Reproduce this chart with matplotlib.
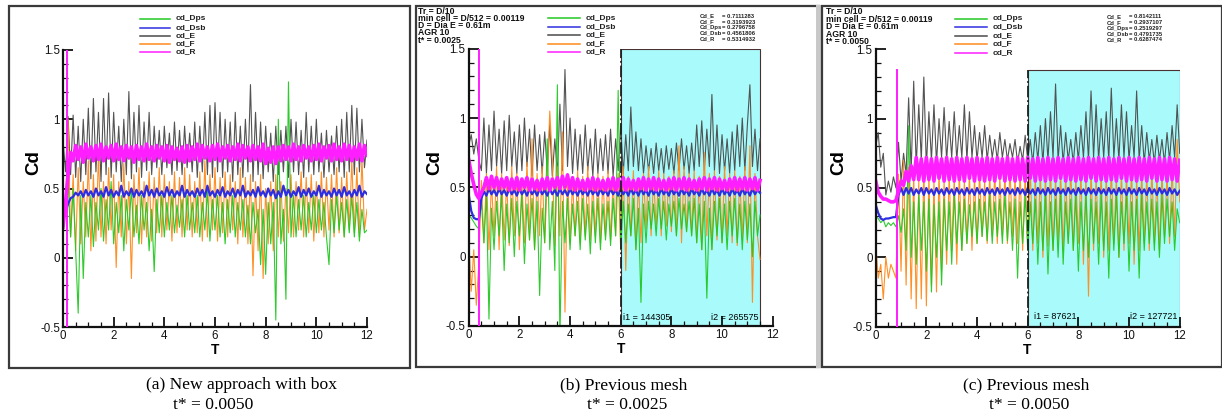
import numpy as np
import matplotlib
matplotlib.use('Agg')
import matplotlib.pyplot as plt
from matplotlib.patches import Rectangle
from matplotlib.lines import Line2D
from matplotlib.ticker import MultipleLocator, FuncFormatter

W, H = 1222, 417
DT = 0.1  # sampling step of the read-off series (T units)

series_names = ['cd_Dps', 'cd_Dsb', 'cd_E', 'cd_F', 'cd_R']
series_colors = {'cd_Dps': '#22c822', 'cd_Dsb': '#2e2ee0', 'cd_E': '#4a4a4a',
                 'cd_F': '#ff8a1c', 'cd_R': '#ff1eff'}

# ---------------- panel (a): new approach with box, t* = 0.0050 ----------------
E_a = [0.85,0.62,1.02,0.60,1.03,0.58,0.95,0.55,1.00,0.60,
       1.08,0.57,1.15,0.62,1.05,0.55,1.15,0.60,1.19,0.58,
       1.05,0.62,0.95,0.55,1.00,0.60,1.20,0.57,1.05,0.62,
       1.10,0.58,0.98,0.63,1.05,0.60,0.95,0.65,0.92,0.60,
       0.95,0.65,0.90,0.60,0.98,0.63,0.92,0.60,0.95,0.65,
       0.90,0.62,0.98,0.58,0.95,0.62,1.05,0.60,1.10,0.58,
       1.12,0.62,1.05,0.58,1.00,0.62,0.98,0.55,1.05,0.60,
       0.95,0.58,1.00,0.62,1.25,0.55,1.05,0.60,0.98,0.57,
       0.95,0.62,0.90,0.55,0.95,0.60,0.92,0.62,0.95,0.58,
       1.00,0.62,0.98,0.60,0.92,0.58,1.05,0.62,0.95,0.60,
       1.00,0.62,0.90,0.58,0.92,0.62,0.88,0.60,0.95,0.62,
       1.00,0.58,1.05,0.62,1.10,0.60,1.08,0.62,1.00,0.65,
       0.85]
Dps_a = [0.45,0.30,0.55,0.15,0.50,0.05,-0.40,0.45,-0.15,0.40,
         0.15,0.45,0.08,0.40,0.20,0.50,0.12,0.42,0.20,0.55,
         0.10,0.40,0.18,0.45,0.05,0.42,0.20,0.50,0.15,0.38,
         0.10,0.45,0.20,0.40,0.05,0.35,-0.10,0.42,0.18,0.45,
         0.15,0.40,0.20,0.45,0.18,0.38,0.22,0.42,0.15,0.45,
         0.20,0.40,0.18,0.45,0.15,0.40,0.20,0.48,0.12,0.42,
         0.20,0.45,0.15,0.40,0.10,0.42,0.18,0.45,0.15,0.40,
         0.20,0.42,0.15,0.38,0.10,0.40,0.18,0.35,-0.05,0.35,
         -0.12,0.40,0.10,0.40,-0.45,1.00,0.10,0.35,-0.30,1.27,
         0.15,0.45,0.15,0.42,0.20,0.45,0.15,0.40,0.20,0.45,
         0.18,0.42,0.20,0.40,0.15,-0.05,0.42,0.18,0.45,0.20,
         0.40,0.15,0.42,0.18,0.45,0.15,0.40,0.12,0.35,0.18,
         0.20]
F_a = [0.25,0.35,1.00,0.15,0.60,0.05,0.65,0.10,0.55,0.15,
       0.70,0.05,0.60,0.12,0.75,0.15,0.55,0.10,0.65,0.20,
       0.60,-0.07,0.55,0.15,0.68,0.10,0.55,-0.15,0.60,0.18,
       0.65,0.10,0.55,0.15,0.62,0.12,0.58,0.18,0.65,0.15,
       0.60,0.20,0.55,0.12,0.62,0.18,0.58,0.15,0.65,0.20,
       0.60,0.15,0.55,0.18,0.62,0.12,0.70,0.15,0.60,0.20,
       0.65,0.12,0.58,0.18,0.62,0.15,0.60,0.20,0.55,0.10,
       0.65,0.15,0.58,0.10,0.60,-0.13,0.55,0.05,0.60,-0.15,
       0.50,0.10,0.55,0.05,0.60,0.15,0.55,0.12,0.50,0.18,
       0.60,0.15,0.55,0.20,0.62,0.15,0.58,0.18,0.60,0.12,
       0.55,0.18,0.62,0.15,0.58,0.20,0.60,0.15,0.65,0.18,
       0.58,0.15,0.62,0.20,0.70,0.18,0.65,0.15,0.72,0.20,
       0.35]
Dsb_a = [0.28,0.33,0.39,0.43,0.44,0.47,0.45,0.48,0.44,0.49,
         0.45,0.48,0.44,0.50,0.45,0.48,0.44,0.51,0.45,0.49,
         0.44,0.48,0.45,0.52,0.44,0.48,0.45,0.50,0.44,0.49,
         0.45,0.48,0.44,0.52,0.45,0.49,0.44,0.50,0.45,0.48,
         0.44,0.51,0.45,0.49,0.44,0.48,0.45,0.52,0.44,0.49,
         0.45,0.48,0.44,0.50,0.45,0.49,0.44,0.52,0.45,0.48,
         0.44,0.49,0.45,0.51,0.44,0.48,0.45,0.50,0.44,0.49,
         0.45,0.52,0.44,0.48,0.45,0.49,0.44,0.51,0.45,0.48,
         0.44,0.50,0.45,0.49,0.43,0.48,0.44,0.52,0.45,0.49,
         0.44,0.48,0.45,0.51,0.44,0.49,0.45,0.50,0.44,0.48,
         0.45,0.52,0.44,0.49,0.45,0.48,0.44,0.50,0.45,0.49,
         0.44,0.51,0.45,0.48,0.44,0.49,0.45,0.52,0.44,0.48,
         0.46]
R_a = [0.22,0.40,0.60,0.76,0.70,0.81,0.71,0.80,0.69,0.82,
       0.72,0.80,0.70,0.81,0.71,0.82,0.70,0.80,0.72,0.81,
       0.70,0.82,0.71,0.80,0.70,0.81,0.72,0.80,0.69,0.81,
       0.71,0.80,0.70,0.82,0.71,0.80,0.70,0.81,0.72,0.80,
       0.70,0.81,0.69,0.80,0.71,0.79,0.70,0.80,0.69,0.81,
       0.70,0.80,0.71,0.82,0.70,0.81,0.72,0.80,0.70,0.81,
       0.71,0.82,0.70,0.80,0.72,0.81,0.70,0.80,0.71,0.82,
       0.70,0.81,0.72,0.80,0.70,0.81,0.71,0.80,0.70,0.82,
       0.68,0.79,0.69,0.80,0.68,0.80,0.70,0.81,0.71,0.80,
       0.70,0.82,0.71,0.80,0.70,0.81,0.72,0.80,0.70,0.81,
       0.71,0.82,0.70,0.80,0.72,0.81,0.70,0.82,0.71,0.80,
       0.70,0.82,0.71,0.81,0.70,0.80,0.71,0.82,0.70,0.81,
       0.74]
R_spike_a = (0.17, -0.5, 1.5)   # restart spike of cd_R: T, Cd low, Cd high

# ---------------- panel (b): previous mesh, t* = 0.0025 ----------------
E_b = [0.80,0.88,0.74,0.85,0.70,0.62,1.00,0.60,0.95,0.62,
       1.05,0.65,0.92,0.60,0.98,0.62,1.02,0.65,0.90,0.60,
       0.95,0.62,1.00,0.65,0.92,0.58,0.95,0.62,0.88,0.60,
       0.90,0.62,0.95,0.58,0.85,0.60,1.10,0.62,1.35,0.65,
       1.00,0.60,0.92,0.62,0.88,0.60,0.95,0.62,0.85,0.58,
       0.92,0.60,0.85,0.62,0.88,0.60,0.92,0.58,0.85,0.62,
       0.95,0.60,0.88,0.62,1.08,0.65,0.90,0.62,0.85,0.60,
       0.80,0.62,0.78,0.60,0.82,0.62,0.78,0.60,0.80,0.63,
       0.78,0.60,0.82,0.62,0.85,0.63,0.80,0.60,0.82,0.62,
       0.95,0.65,0.98,0.62,0.92,0.65,1.17,0.62,0.95,0.60,
       0.88,0.62,0.85,0.60,0.90,0.62,0.95,0.65,1.00,0.62,
       0.95,1.24,0.65,0.92,0.62,0.85]
Dps_b = [0.30,0.28,0.25,0.22,0.20,0.40,0.10,0.45,-0.45,0.35,
         0.05,0.40,0.15,0.45,-0.10,0.38,0.10,0.42,0.00,0.40,
         0.15,0.45,-0.05,0.38,0.12,0.42,0.05,0.40,-0.28,0.35,
         0.10,0.85,0.05,0.40,-0.10,1.24,-0.60,0.40,0.10,0.42,
         0.05,0.38,0.15,0.40,0.05,0.42,0.12,0.38,0.02,0.40,
         0.10,0.42,0.05,0.38,0.12,0.40,0.08,0.42,0.15,1.20,
         0.05,0.40,0.10,0.38,0.15,0.42,0.05,0.35,-0.33,0.38,
         0.10,0.40,0.20,0.38,0.15,0.42,0.20,0.40,0.12,0.38,
         0.22,0.40,0.15,0.42,0.20,0.38,0.18,0.40,0.15,0.42,
         0.10,0.38,0.05,0.40,-0.30,0.35,0.05,0.40,0.15,0.42,
         0.10,0.38,0.05,0.40,0.15,0.42,0.10,0.38,0.05,0.40,
         0.12,0.38,0.00,0.40,0.15,0.30]
F_b = [0.15,-0.25,0.05,-0.35,-0.05,0.55,0.10,0.60,0.05,0.55,
       0.15,0.65,0.05,0.60,0.12,0.55,0.08,0.65,0.15,0.60,
       0.05,0.55,0.10,0.68,0.12,0.85,0.05,0.60,0.15,0.65,
       0.10,0.55,1.05,0.70,0.08,0.65,0.15,0.90,-0.40,0.60,
       0.10,0.55,0.15,0.62,0.10,0.58,0.15,0.65,0.12,0.55,
       0.15,0.60,0.10,0.58,0.15,0.62,0.12,0.55,0.15,0.60,
       0.05,0.65,-0.10,0.58,0.15,0.62,0.05,0.55,0.10,0.60,
       0.20,0.65,0.15,0.58,0.20,0.62,0.15,0.60,0.22,0.58,
       0.18,0.62,0.15,0.80,0.10,0.65,0.18,0.60,0.15,0.62,
       0.10,0.58,0.05,0.75,0.15,0.60,0.05,0.62,0.12,0.58,
       0.10,0.65,0.15,0.60,0.10,0.62,0.08,0.58,0.12,0.65,
       0.10,0.80,-0.33,0.60,0.15,-0.02]
Dsb_b = [0.45,0.33,0.28,0.27,0.27,0.42,0.47,0.44,0.49,0.45,
         0.48,0.44,0.49,0.45,0.48,0.44,0.49,0.45,0.48,0.44,
         0.49,0.45,0.48,0.44,0.49,0.45,0.48,0.44,0.49,0.45,
         0.48,0.44,0.49,0.45,0.48,0.44,0.49,0.45,0.48,0.44,
         0.49,0.45,0.48,0.44,0.49,0.45,0.48,0.44,0.49,0.45,
         0.48,0.44,0.49,0.45,0.48,0.44,0.49,0.45,0.48,0.44,
         0.49,0.45,0.48,0.44,0.49,0.45,0.48,0.44,0.49,0.45,
         0.48,0.44,0.49,0.45,0.48,0.44,0.49,0.45,0.48,0.44,
         0.49,0.45,0.48,0.44,0.49,0.45,0.48,0.44,0.49,0.45,
         0.48,0.44,0.49,0.45,0.48,0.44,0.49,0.45,0.48,0.44,
         0.49,0.45,0.48,0.44,0.49,0.45,0.48,0.44,0.49,0.45,
         0.48,0.44,0.49,0.45,0.48,0.46]
R_b = [0.70,0.60,0.52,0.45,0.42,0.46,0.50,0.57,0.49,0.58,
       0.50,0.57,0.49,0.56,0.50,0.57,0.48,0.56,0.49,0.57,
       0.48,0.56,0.50,0.57,0.48,0.56,0.49,0.55,0.48,0.56,
       0.49,0.57,0.48,0.56,0.50,0.57,0.49,0.58,0.50,0.59,
       0.49,0.57,0.48,0.56,0.49,0.55,0.48,0.56,0.49,0.57,
       0.48,0.56,0.49,0.55,0.48,0.56,0.49,0.57,0.48,0.56,
       0.49,0.57,0.48,0.56,0.49,0.55,0.48,0.56,0.49,0.57,
       0.48,0.56,0.49,0.57,0.48,0.56,0.49,0.55,0.48,0.56,
       0.49,0.57,0.48,0.56,0.49,0.57,0.48,0.56,0.49,0.55,
       0.48,0.56,0.49,0.57,0.48,0.56,0.49,0.57,0.48,0.56,
       0.49,0.55,0.48,0.56,0.49,0.57,0.48,0.56,0.49,0.57,
       0.48,0.56,0.49,0.57,0.48,0.55]
R_spike_b = (0.40, -0.5, 1.5)
window_b = (6.0, 11.5, -0.5, 1.5)    # averaging window: T from, T to, Cd from, Cd to
info_b = ['Tr = D/10', 'min cell = D/512 = 0.00119', 'D = Dia E = 0.61m', 'AGR 10', 't* = 0.0025']
stat_names = ['Cd_E', 'Cd_F', 'Cd_Dps', 'Cd_Dsb', 'Cd_R']
stats_b = [0.7111283, 0.3193923, 0.2796758, 0.4561806, 0.5314932]
index_b = (144305, 265575)

# ---------------- panel (c): previous mesh, t* = 0.0050 ----------------
E_c = [0.80,0.90,0.65,0.75,0.45,0.55,0.47,0.58,0.50,0.83,
       0.55,0.75,0.60,1.15,0.62,1.27,0.65,1.10,0.70,1.30,
       0.65,1.05,0.70,1.10,0.68,1.00,0.72,1.08,0.70,0.98,
       0.72,1.05,0.70,0.95,0.72,1.10,0.70,1.05,0.72,0.95,
       0.70,0.90,0.72,0.95,0.70,0.88,0.72,0.85,0.70,0.90,
       0.72,0.85,0.70,0.82,0.72,0.85,0.68,0.80,0.70,0.88,
       0.70,0.85,0.68,0.90,0.70,0.95,0.68,1.00,0.70,1.05,
       0.72,1.25,0.70,0.95,0.68,0.90,0.70,0.85,0.68,0.90,
       0.70,0.95,0.72,1.05,0.70,1.20,0.72,1.10,0.70,1.00,
       0.72,1.05,0.70,1.22,0.72,1.00,0.70,1.10,0.72,1.05,
       0.70,0.95,0.72,1.20,0.70,0.95,0.68,0.90,0.70,0.85,
       0.68,0.88,0.70,0.85,0.68,0.90,0.70,0.95,0.72,1.10,
       0.75]
Dps_c = [0.30,0.28,0.25,0.27,0.22,0.25,0.23,0.25,0.22,0.30,
         0.18,0.35,0.05,0.95,0.00,0.40,-0.05,0.45,0.05,0.40,
         -0.10,0.42,-0.25,0.38,0.00,0.40,-0.20,0.42,0.05,0.40,
         -0.05,0.45,0.10,0.40,0.05,0.42,0.10,0.38,0.15,0.40,
         0.10,0.42,0.15,0.40,0.12,0.45,0.10,0.40,0.15,0.42,
         0.10,0.45,0.12,0.40,0.05,0.42,-0.15,0.40,0.10,0.45,
         0.05,0.40,0.10,0.42,-0.05,0.40,0.05,0.45,-0.12,0.40,
         0.05,0.42,0.00,0.45,-0.05,0.40,0.10,0.42,0.05,0.45,
         -0.10,0.40,0.05,0.45,0.00,0.42,0.10,0.40,-0.05,0.45,
         0.05,0.40,-0.15,0.42,0.05,0.45,0.00,0.40,0.10,0.45,
         -0.10,0.40,0.05,0.42,-0.15,0.45,0.05,0.40,0.10,0.42,
         0.05,0.40,0.00,0.45,0.10,0.42,0.15,0.40,0.05,0.35,
         0.25]
F_c = [0.10,-0.15,-0.05,-0.30,0.00,-0.15,-0.05,-0.10,-0.15,0.60,
       -0.10,0.70,-0.20,0.65,-0.30,0.60,-0.37,0.55,-0.30,0.65,
       -0.35,0.60,-0.20,0.55,-0.25,0.62,-0.10,0.55,-0.05,0.60,
       0.05,0.58,-0.05,0.62,0.05,0.55,0.10,0.60,0.05,0.58,
       0.10,0.62,0.15,0.55,0.10,0.60,0.15,0.62,0.10,0.58,
       0.15,0.60,0.10,0.65,0.15,0.58,0.10,0.62,0.05,0.60,
       0.10,0.65,0.05,0.58,0.10,0.62,0.00,0.60,0.08,0.65,
       0.05,0.58,0.10,0.62,0.05,0.60,0.10,0.65,0.05,0.58,
       0.10,0.62,-0.05,0.60,-0.28,0.65,0.05,0.58,0.10,0.62,
       0.00,0.60,0.05,0.65,0.10,0.58,0.00,0.62,0.05,0.60,
       0.10,0.65,-0.05,0.58,0.05,0.62,0.10,0.60,0.05,0.65,
       0.10,0.58,0.05,0.62,0.15,0.60,0.10,0.65,0.15,0.85,
       0.40]
Dsb_c = [0.38,0.32,0.28,0.27,0.28,0.28,0.285,0.29,0.29,0.45,
         0.50,0.45,0.50,0.46,0.50,0.45,0.49,0.46,0.50,0.45,
         0.50,0.46,0.49,0.45,0.50,0.46,0.49,0.45,0.50,0.46,
         0.49,0.45,0.50,0.46,0.49,0.45,0.50,0.46,0.49,0.45,
         0.50,0.46,0.49,0.45,0.50,0.46,0.49,0.45,0.50,0.46,
         0.49,0.45,0.50,0.46,0.49,0.45,0.50,0.46,0.49,0.45,
         0.50,0.46,0.49,0.45,0.50,0.46,0.49,0.45,0.50,0.46,
         0.49,0.45,0.50,0.46,0.49,0.45,0.50,0.46,0.49,0.45,
         0.50,0.46,0.49,0.45,0.50,0.46,0.49,0.45,0.50,0.46,
         0.49,0.45,0.50,0.46,0.49,0.45,0.50,0.46,0.49,0.45,
         0.50,0.46,0.49,0.45,0.50,0.46,0.49,0.45,0.50,0.46,
         0.49,0.45,0.50,0.46,0.49,0.45,0.50,0.46,0.49,0.45,
         0.48]
R_c = [0.55,0.47,0.44,0.42,0.42,0.41,0.40,0.40,0.41,0.48,
       0.55,0.52,0.62,0.55,0.66,0.56,0.72,0.56,0.71,0.55,
       0.72,0.56,0.71,0.55,0.72,0.57,0.71,0.55,0.72,0.56,
       0.71,0.55,0.72,0.56,0.71,0.55,0.72,0.57,0.71,0.55,
       0.72,0.56,0.71,0.55,0.72,0.56,0.71,0.55,0.72,0.57,
       0.71,0.55,0.72,0.56,0.71,0.55,0.72,0.56,0.71,0.55,
       0.72,0.57,0.71,0.55,0.72,0.56,0.71,0.55,0.72,0.56,
       0.71,0.55,0.72,0.57,0.71,0.55,0.72,0.56,0.71,0.55,
       0.72,0.56,0.71,0.55,0.72,0.57,0.71,0.55,0.72,0.56,
       0.71,0.55,0.72,0.56,0.71,0.55,0.72,0.57,0.71,0.55,
       0.72,0.56,0.71,0.55,0.72,0.56,0.71,0.55,0.72,0.57,
       0.71,0.55,0.72,0.56,0.71,0.55,0.72,0.56,0.71,0.55,
       0.70]
R_spike_c = (0.85, -0.5, 1.35)
window_c = (6.0, 12.0, -0.5, 1.35)
info_c = ['Tr = D/10', 'min cell = D/512 = 0.00119', 'D = Dia E = 0.61m', 'AGR 10', 't* = 0.0050']
stats_c = [0.8142111, 0.2937107, 0.2519297, 0.4791735, 0.6287474]
index_c = (87621, 127721)

captions = [('(a) New approach with box', 't* = 0.0050'),
            ('(b) Previous mesh', 't* = 0.0025'),
            ('(c) Previous mesh', 't* = 0.0050')]

x_ticks = [0, 2, 4, 6, 8, 10, 12]
y_ticks = [-0.5, 0, 0.5, 1, 1.5]

# ------------------------------------------------------------------
SANS = 'Liberation Sans'
SERIF = 'Liberation Serif'
plt.rcParams['font.family'] = SANS

fig = plt.figure(figsize=(W / 100, H / 100), dpi=100)
fig.patch.set_facecolor('white')


def fx(x):
    return x / W


def fy(y):
    return 1 - y / H


def frame(x0, y0, x1, y1, color='#3a3a3a', lw=1.6):
    fig.add_artist(Rectangle((fx(x0), fy(y1)), fx(x1) - fx(x0), fy(y0) - fy(y1),
                             transform=fig.transFigure, fill=False,
                             edgecolor=color, linewidth=lw, zorder=0))


def make_axes(x0, x1, ytop, ybot):
    ax = fig.add_axes([fx(x0), fy(ybot), fx(x1) - fx(x0), fy(ytop) - fy(ybot)])
    ax.set_xlim(0, 12)
    ax.set_ylim(-0.5, 1.5)
    ax.patch.set_alpha(0)
    for s in ['top', 'right']:
        ax.spines[s].set_visible(False)
    for s in ['left', 'bottom']:
        ax.spines[s].set_linewidth(1.6)
        ax.spines[s].set_color('#111111')
    ax.set_xticks(x_ticks)
    ax.set_yticks(y_ticks)
    ax.xaxis.set_minor_locator(MultipleLocator(0.5))
    ax.yaxis.set_minor_locator(MultipleLocator(0.1))
    fmt = FuncFormatter(lambda v, p: '%g' % v)
    ax.xaxis.set_major_formatter(fmt)
    ax.yaxis.set_major_formatter(fmt)
    ax.tick_params(which='major', direction='in', length=7, width=1.3,
                   labelsize=8.3, pad=2.2, colors='#111111')
    ax.tick_params(which='minor', direction='in', length=3.5, width=0.9, colors='#111111')
    return ax


def draw_series(ax, E, F, Dps, Dsb, R, spike):
    styles = [(E, 'cd_E', 0.8, 0.95),
              (F, 'cd_F', 0.8, 0.95),
              (Dps, 'cd_Dps', 0.8, 0.95),
              (Dsb, 'cd_Dsb', 1.6, 1.0),
              (R, 'cd_R', 2.6, 1.0)]
    for vals, name, lw, a in styles:
        t = np.arange(len(vals)) * DT
        ax.plot(t, vals, color=series_colors[name], lw=lw, alpha=a, zorder=2)
    ax.plot([spike[0], spike[0]], [spike[1], spike[2]],
            color=series_colors['cd_R'], lw=1.4, zorder=3)


def draw_window(ax, win):
    t0, t1, c0, c1 = win
    ax.add_patch(Rectangle((t0, c0), t1 - t0, c1 - c0, facecolor='#a9fbfb',
                           edgecolor='#4a3030', linewidth=0.8, zorder=0))
    ax.plot([t0, t0], [c0, c1], color='#222222', lw=1.3, ls='-.', zorder=4)


def legend(lx0, lx1, tx, ys):
    for name, y in zip(series_names, ys):
        fig.add_artist(Line2D([fx(lx0), fx(lx1)], [fy(y), fy(y)], transform=fig.transFigure,
                              color=series_colors[name], lw=1.1))
        fig.text(fx(tx), fy(y), name, fontsize=6, fontweight='bold', va='center',
                 ha='left', color='#222222')


def labels(xc, yc, tx, ty):
    fig.text(fx(xc), fy(yc), 'Cd', fontsize=13.5, fontweight='bold', rotation=90,
             ha='center', va='center')
    fig.text(fx(tx), fy(ty), 'T', fontsize=10, fontweight='bold', ha='center', va='top')


def info(x, y0, pitch, lines):
    for i, s in enumerate(lines):
        fig.text(fx(x), fy(y0 + i * pitch), s, fontsize=6.2, fontweight='bold',
                 ha='left', va='center', color='#111111')


def stats(x, xeq, y0, pitch, vals):
    for i, (n, v) in enumerate(zip(stat_names, vals)):
        fig.text(fx(x), fy(y0 + i * pitch), n, fontsize=4.2, fontweight='bold',
                 ha='left', va='center', color='#222222')
        fig.text(fx(xeq), fy(y0 + i * pitch), '= %.7f' % v, fontsize=4.2,
                 fontweight='bold', ha='left', va='center', color='#222222')


def caption(i, x1, y1, x2, y2):
    fig.text(fx(x1), fy(y1), captions[i][0], fontsize=12.6, family=SERIF,
             ha='center', va='center')
    fig.text(fx(x2), fy(y2), captions[i][1], fontsize=12.6, family=SERIF,
             ha='center', va='center')


# frames of the three sub-figures
frame(9, 6, 410, 368)
frame(416, 6, 819, 367)
fig.add_artist(Rectangle((fx(816), fy(368)), fx(822) - fx(816), fy(5) - fy(368),
                         transform=fig.transFigure, facecolor='#c8c8c8',
                         edgecolor='none', zorder=0))
frame(822, 6, 1222, 367)

# panel a
ax_a = make_axes(63, 367, 50, 327)
draw_series(ax_a, E_a, F_a, Dps_a, Dsb_a, R_a, R_spike_a)
legend(140, 170, 176, [19, 27.5, 35.5, 43.5, 52])
labels(34, 163, 215, 342.5)
caption(0, 242, 385, 213, 405)

# panel b
ax_b = make_axes(468.7, 772.7, 48.7, 326)
draw_window(ax_b, window_b)
draw_series(ax_b, E_b, F_b, Dps_b, Dsb_b, R_b, R_spike_b)
legend(548, 580, 586, [18, 26.5, 35, 43.5, 52])
labels(435, 163, 620.7, 342)
info(418, 11, 7.3, info_b)
stats(700, 722, 16.3, 5.7, stats_b)
ax_b.text(6.1, -0.44, 'i1 = %d' % index_b[0], fontsize=6.5, ha='left', va='center')
ax_b.text(11.45, -0.44, 'i2 = %d' % index_b[1], fontsize=6.5, ha='right', va='center')
caption(1, 624, 385, 627, 405)

# panel c
ax_c = make_axes(875.7, 1179.7, 49.3, 326.7)
draw_window(ax_c, window_c)
draw_series(ax_c, E_c, F_c, Dps_c, Dsb_c, R_c, R_spike_c)
legend(955, 987, 993, [18.5, 27, 35.5, 44, 53])
labels(839, 163, 1027, 342.5)
info(826, 12, 7.4, info_c)
stats(1107, 1129, 17, 5.7, stats_c)
ax_c.text(6.25, -0.43, 'i1 = %d' % index_c[0], fontsize=6.5, ha='left', va='center')
ax_c.text(11.9, -0.43, 'i2 = %d' % index_c[1], fontsize=6.5, ha='right', va='center')
caption(2, 1026, 385, 1029, 405)

fig.savefig('out.png', dpi=100, facecolor='white')
